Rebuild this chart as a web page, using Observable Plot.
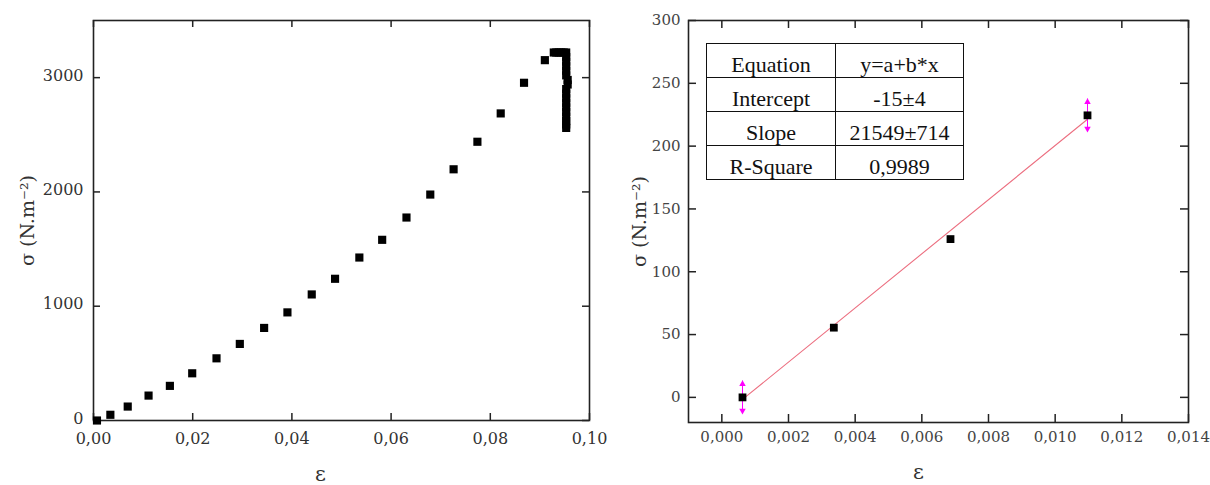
<!DOCTYPE html>
<html><head><meta charset="utf-8">
<script src="https://cdn.jsdelivr.net/npm/d3@7"></script>
<script src="https://cdn.jsdelivr.net/npm/@observablehq/plot@0.6"></script>
<style>
body{margin:0;background:#fff;}
#wrap{position:relative;width:1210px;height:485px;overflow:hidden;background:#fff;}
#left,#right{position:absolute;top:0;}
#left{left:0} #right{left:605px}
svg{overflow:visible}
#tbl{position:absolute;left:706px;top:43px;border-collapse:collapse;font-family:"Liberation Serif",serif;font-size:22px;color:#111;}
#tbl td{border:1.5px solid #111;text-align:center;padding:8px 0 0 0;height:25px;vertical-align:top;line-height:25px;}
#tbl td:first-child{width:128px}
#tbl td:last-child{width:127px}
</style></head><body>
<div id="wrap"><div id="left"></div><div id="right"></div><table id="tbl"></table></div>
<script>
// ---- Left panel data ----
const leftEps = [0.0007, 0.0034, 0.0069, 0.0111, 0.0154, 0.0199, 0.0248, 0.0295, 0.0344, 0.0391,
  0.0440, 0.0487, 0.0536, 0.0582, 0.0631, 0.0679, 0.0726, 0.0774, 0.0821, 0.0868, 0.0910,
  0.0928, 0.0933, 0.0938, 0.0943, 0.0948, 0.0953,
  0.0953, 0.0953, 0.0953, 0.0953, 0.0953, 0.0956, 0.0956, 0.0953, 0.0953, 0.0953,
  0.0953, 0.0953, 0.0953, 0.0953, 0.0953, 0.0953, 0.0953];
const leftSigma = [0, 50, 122, 218, 303, 413, 544, 670, 810, 946,
  1103, 1240, 1426, 1581, 1776, 1977, 2198, 2439, 2687, 2955, 3153,
  3220, 3220, 3220, 3220, 3220, 3220,
  3180, 3140, 3100, 3060, 3020, 2980, 2940, 2900, 2860, 2820,
  2780, 2740, 2700, 2660, 2620, 2590, 2560];
const leftXTicks = [0, 0.02, 0.04, 0.06, 0.08, 0.10];
const leftYTicks = [0, 1000, 2000, 3000];

// ---- Right panel data ----
const rightEps = [0.00062, 0.00336, 0.00686, 0.01097];
const rightSigma = [0, 55.5, 126, 224.5];
const rightErr = [13, 0, 0, 13];
const fitIntercept = -15;
const fitSlope = 21549;
const rightXTicks = [0, 0.002, 0.004, 0.006, 0.008, 0.010, 0.012, 0.014];
const rightYTicks = [0, 50, 100, 150, 200, 250, 300];

// ---- Table ----
const tableLabels = ["Equation", "Intercept", "Slope", "R-Square"];
const tableValues = ["y=a+b*x", "-15±4", "21549±714", "0,9989"];

const yLabel = "σ (N.m⁻²)";
const xLabel = "ε";

const leftData = leftEps.map((e, i) => ({eps: e, sigma: leftSigma[i]}));
const rightData = rightEps.map((e, i) => ({eps: e, sigma: rightSigma[i], err: rightErr[i]}));
const errData = rightData.filter(d => d.err > 0);
const fitData = [rightEps[0], rightEps[rightEps.length - 1]].map(e => ({eps: e, sigma: fitIntercept + fitSlope * e}));

const comma = digits => d => d.toFixed(digits).replace(".", ",");
const axisColor = "#222";

function frameTicks(xTicks, yTicks, xDom, yDom, len) {
  return [
    Plot.ruleX(xTicks, {x: d => d, y1: yDom[0], y2: yDom[0], insetTop: -len, stroke: axisColor, strokeWidth: 1.5}),
    Plot.ruleX(xTicks, {x: d => d, y1: yDom[1], y2: yDom[1], insetBottom: -len, stroke: axisColor, strokeWidth: 1.5}),
    Plot.ruleY(yTicks, {y: d => d, x1: xDom[0], x2: xDom[0], insetRight: -len, stroke: axisColor, strokeWidth: 1.5}),
    Plot.ruleY(yTicks, {y: d => d, x1: xDom[1], x2: xDom[1], insetLeft: -len, stroke: axisColor, strokeWidth: 1.5})
  ];
}

const lxDom = [0, 0.10], lyDom = [0, 3500];
const left = Plot.plot({
  width: 605, height: 485,
  marginLeft: 93, marginRight: 16, marginTop: 20, marginBottom: 65,
  x: {domain: lxDom}, y: {domain: lyDom},
  style: {fontFamily: "DejaVu Serif", fontSize: "16px", color: "#333", background: "transparent", overflow: "visible"},
  marks: [
    Plot.axisX(leftXTicks, {tickSize: 0, tickPadding: 12, tickFormat: comma(2), label: null}),
    Plot.axisY(leftYTicks, {tickSize: 0, tickPadding: 10, dy: -2, tickFormat: d => String(d), label: null}),
    ...frameTicks(leftXTicks, leftYTicks, lxDom, lyDom, 7),
    Plot.frame({stroke: axisColor, strokeWidth: 1.6}),
    Plot.dot(leftData, {x: "eps", y: "sigma", symbol: "square", r: 4.6, fill: "black", stroke: null}),
    Plot.text([xLabel], {frameAnchor: "bottom", textAnchor: "middle", lineAnchor: "middle", dx: -21, dy: 54, fontSize: 21, fill: "#333"}),
    Plot.text([yLabel], {frameAnchor: "left", textAnchor: "middle", lineAnchor: "middle", dx: -66, rotate: -90, fontSize: 19, fill: "#333"})
  ]
});
document.getElementById("left").appendChild(left);

const rxDom = [-0.001, 0.014], ryDom = [-20, 300];
const right = Plot.plot({
  width: 605, height: 485,
  marginLeft: 83, marginRight: 22, marginTop: 20, marginBottom: 63,
  x: {domain: rxDom}, y: {domain: ryDom},
  style: {fontFamily: "DejaVu Serif", fontSize: "15px", color: "#444", background: "transparent", overflow: "visible"},
  marks: [
    Plot.axisX(rightXTicks, {tickSize: 0, tickPadding: 9, tickFormat: comma(3), label: null}),
    Plot.axisY(rightYTicks, {tickSize: 0, tickPadding: 8, tickFormat: d => String(d), label: null}),
    ...frameTicks(rightXTicks, rightYTicks, rxDom, ryDom, 8),
    Plot.frame({stroke: axisColor, strokeWidth: 1.6}),
    Plot.line(fitData, {x: "eps", y: "sigma", stroke: "#ec6f80", strokeWidth: 1.1}),
    Plot.ruleX(errData, {x: "eps", y1: d => d.sigma - d.err, y2: d => d.sigma + d.err, stroke: "#ff00ff", strokeWidth: 1}),
    Plot.dot(errData, {x: "eps", y: d => d.sigma + d.err, dy: 3, symbol: "triangle", r: 2.4, fill: "#ff00ff", stroke: null}),
    Plot.dot(errData, {x: "eps", y: d => d.sigma - d.err, dy: -3, rotate: 180, symbol: "triangle", r: 2.4, fill: "#ff00ff", stroke: null}),
    Plot.dot(rightData, {x: "eps", y: "sigma", symbol: "square", r: 4.4, fill: "black", stroke: null}),
    Plot.text([xLabel], {frameAnchor: "bottom", textAnchor: "middle", lineAnchor: "middle", dx: -20, dy: 50, fontSize: 21, fill: "#333"}),
    Plot.text([yLabel], {frameAnchor: "left", textAnchor: "middle", lineAnchor: "middle", dx: -49, rotate: -90, fontSize: 19, fill: "#333"})
  ]
});
document.getElementById("right").appendChild(right);

const tbl = document.getElementById("tbl");
tableLabels.forEach((lab, i) => {
  const tr = document.createElement("tr");
  const a = document.createElement("td"); a.textContent = lab;
  const b = document.createElement("td"); b.textContent = tableValues[i];
  tr.appendChild(a); tr.appendChild(b); tbl.appendChild(tr);
});
</script>
</body></html>
